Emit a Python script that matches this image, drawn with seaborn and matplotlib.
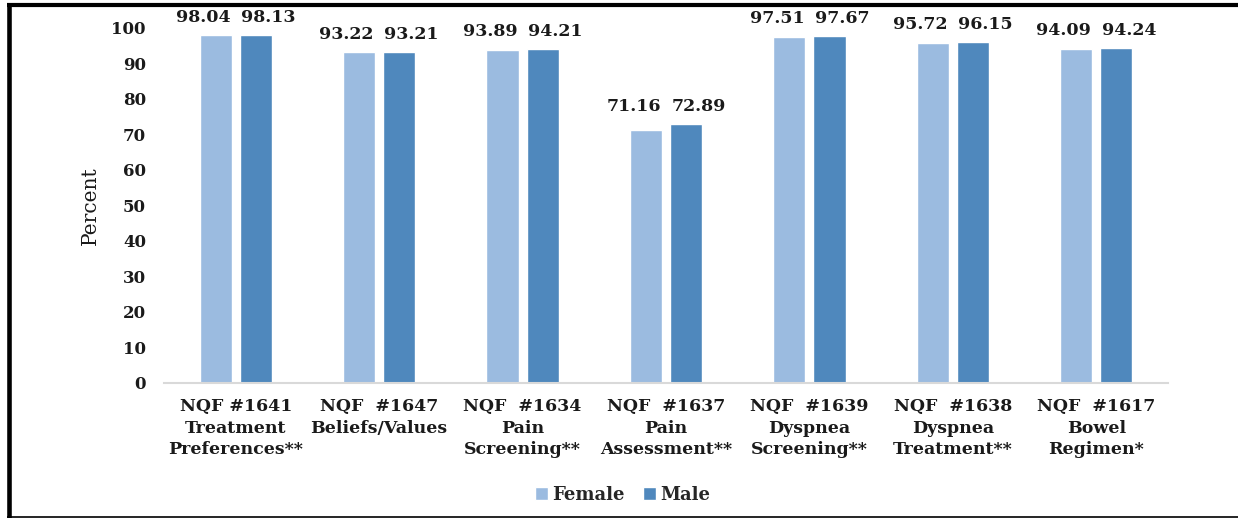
import matplotlib
matplotlib.use("Agg")
import matplotlib.pyplot as plt
from matplotlib.lines import Line2D
import seaborn as sns
import pandas as pd

measures = [
    "NQF #1641\nTreatment\nPreferences**",
    "NQF  #1647\nBeliefs/Values",
    "NQF  #1634\nPain\nScreening**",
    "NQF  #1637\nPain\nAssessment**",
    "NQF  #1639\nDyspnea\nScreening**",
    "NQF  #1638\nDyspnea\nTreatment**",
    "NQF  #1617\nBowel\nRegimen*",
]
female = [98.04, 93.22, 93.89, 71.16, 97.51, 95.72, 94.09]
male = [98.13, 93.21, 94.21, 72.89, 97.67, 96.15, 94.24]
groups = ["Female", "Male"]
y_ticks = [0, 10, 20, 30, 40, 50, 60, 70, 80, 90, 100]

df = pd.DataFrame({
    "measure": measures * 2,
    "percent": female + male,
    "sex": ["Female"] * len(measures) + ["Male"] * len(measures),
})

sns.set_theme(style="white")
plt.rcParams["font.family"] = ["DejaVu Serif"]

W, H = 1238, 518
fig = plt.figure(figsize=(W / 100, H / 100), dpi=100)
ax = fig.add_axes([164 / W, 1 - 382.7 / H, (1168 - 164) / W, (382.7 - 28) / H])

palette = {"Female": "#9BBBE0", "Male": "#4F88BD"}
sns.barplot(data=df, x="measure", y="percent", hue="sex", hue_order=groups,
            order=measures, palette=palette, width=0.56, gap=0.2,
            saturation=1, errorbar=None, ax=ax, legend=True)

# value labels: a pair sits on one line above the taller bar of its group,
# nudged apart so the two numbers do not collide
female_bars, male_bars = ax.containers[0], ax.containers[1]
for fb, mb in zip(female_bars, male_bars):
    top = max(fb.get_height(), mb.get_height())
    for bar, dx in ((fb, -9), (mb, 9)):
        ax.annotate(f"{bar.get_height():.2f}",
                    xy=(bar.get_x() + bar.get_width() / 2, top),
                    xytext=(dx, 6.5), textcoords="offset points",
                    ha="center", va="bottom", fontsize=12.5,
                    fontweight="bold", color="#1a1a1a", annotation_clip=False)

ax.set_ylim(0, 100)
ax.set_yticks(y_ticks)
ax.set_yticklabels([str(t) for t in y_ticks], fontsize=12, fontweight="bold")
ax.set_xticks(range(len(measures)))
ax.set_xticklabels(measures, fontsize=12.5, fontweight="bold", linespacing=1.36)
ax.tick_params(axis="both", length=0, colors="#1a1a1a")
ax.tick_params(axis="y", pad=13)
ax.tick_params(axis="x", pad=11)
ax.set_xlim(-0.5, len(measures) - 0.5)
ax.set_xlabel("")
ax.set_ylabel("Percent", fontsize=14.5, color="#1a1a1a", labelpad=8)

for side in ["top", "right", "left"]:
    ax.spines[side].set_visible(False)
ax.spines["bottom"].set_color("#D9D9D9")
ax.spines["bottom"].set_linewidth(1.5)

handles, labels = ax.get_legend_handles_labels()
ax.get_legend().remove()
fig.legend(handles, labels, loc="center", bbox_to_anchor=(0.503, 1 - 495 / H), ncol=2,
           frameon=False, handlelength=0.7, handleheight=0.7, handletextpad=0.25,
           columnspacing=1.0, prop={"size": 13, "weight": "bold"})

# frame around the figure
fig.add_artist(Line2D([9 / W, 9 / W], [1 - 3 / H, 1 - 517.5 / H], color="black", lw=3.3,
                      solid_capstyle="butt", transform=fig.transFigure))
fig.add_artist(Line2D([7 / W, 1], [1 - 5 / H, 1 - 5 / H], color="black", lw=3.0,
                      solid_capstyle="butt", transform=fig.transFigure))
fig.add_artist(Line2D([7 / W, 1], [1 - 516.5 / H, 1 - 516.5 / H], color="black", lw=1.2,
                      solid_capstyle="butt", transform=fig.transFigure))

fig.savefig("out.png", dpi=100, facecolor="white")
